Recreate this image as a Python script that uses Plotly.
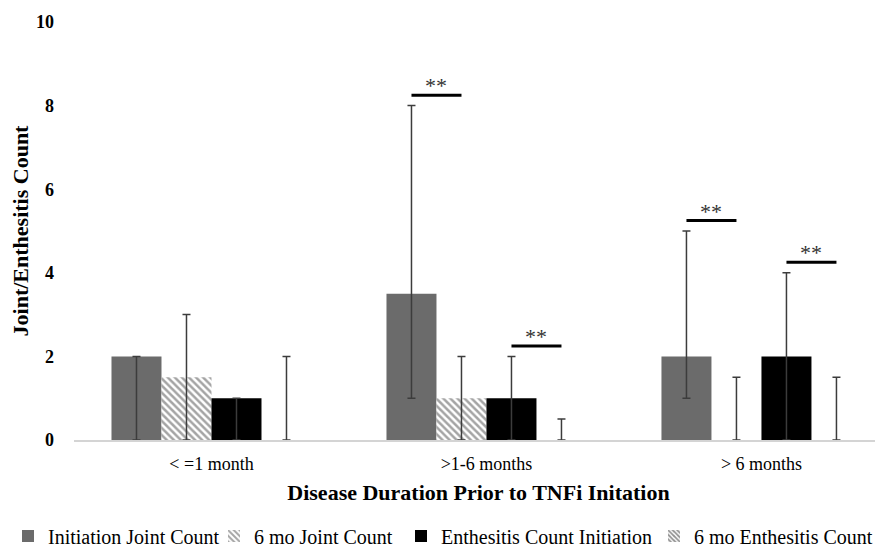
import plotly.graph_objects as go

categories = ["< =1 month", ">1-6 months", "> 6 months"]
series_names = ["Initiation Joint Count", "6 mo Joint Count",
                "Enthesitis Count Initiation", "6 mo Enthesitis Count"]
init_joint = [2, 3.5, 2]
init_joint_low = [0, 1, 1]
init_joint_high = [2, 8, 5]
six_mo_joint = [1.5, 1, 0]
six_mo_joint_low = [0, 0, 0]
six_mo_joint_high = [3, 2, 1.5]
enth_init = [1, 1, 2]
enth_init_low = [0, 0, 0]
enth_init_high = [1, 2, 4]
six_mo_enth = [0, 0, 0]
six_mo_enth_low = [0, 0, 0]
six_mo_enth_high = [2, 0.5, 1.5]
# significance: (group index, first bar index of compared pair)
sig_groups = [1, 1, 2, 2]
sig_bars = [0, 2, 0, 2]
sig_label = "**"

values = [init_joint, six_mo_joint, enth_init, six_mo_enth]
lows = [init_joint_low, six_mo_joint_low, enth_init_low, six_mo_enth_low]
highs = [init_joint_high, six_mo_joint_high, enth_init_high, six_mo_enth_high]

FONT = "Liberation Serif, Times New Roman, serif"
BARGAP = 0.2727
n_series = 4
bw = (1 - BARGAP) / n_series

# page has an 8px body margin; figure is sized to fill the rest of the window
W, H = 875, 540

styles = [
    dict(color="#6b6b6b"),
    dict(color="white", pattern=dict(shape="\\", fgcolor="#4a4a4a", bgcolor="white", size=5, solidity=0.5)),
    dict(color="black"),
    dict(color="white", pattern=dict(shape="\\", fgcolor="#1e1e1e", bgcolor="white", size=4, solidity=0.55)),
]
legend_ids = ["legend", "legend2", "legend3", "legend4"]
legend_left_px = [-1, 214, 401, 654]

xs = list(range(len(categories)))
fig = go.Figure()
for k in range(n_series):
    fig.add_trace(go.Bar(
        x=xs, y=values[k], name=series_names[k], legend=legend_ids[k],
        marker=dict(**styles[k], line=dict(width=0)),
        error_y=dict(type="data", symmetric=False,
                     array=[h - v for h, v in zip(highs[k], values[k])],
                     arrayminus=[v - l for v, l in zip(values[k], lows[k])],
                     color="#3c3c3c", thickness=1.5, width=4),
    ))

shapes = []
annotations = []
for g, b in zip(sig_groups, sig_bars):
    x0 = g + (b - 1.5) * bw
    x1 = g + (b + 1 - 1.5) * bw
    top = max(highs[b][g], highs[b + 1][g]) + 0.25
    shapes.append(dict(type="line", xref="x", yref="y", x0=x0, x1=x1, y0=top, y1=top,
                       line=dict(color="black", width=3)))
    annotations.append(dict(x=(x0 + x1) / 2, y=top, xref="x", yref="y", text=sig_label,
                            showarrow=False, yanchor="bottom", yshift=-5,
                            font=dict(family=FONT, size=22, color="#333333")))

legend_layout = {}
for lid, left in zip(legend_ids, legend_left_px):
    legend_layout[lid] = dict(
        orientation="h", xref="container", yref="container",
        x=(left - 8) / W, xanchor="left", y=12 / H, yanchor="middle",
        font=dict(family=FONT, size=20), itemwidth=30, bgcolor="rgba(0,0,0,0)")

fig.update_layout(
    width=W, height=H,
    margin=dict(l=66, r=0, t=14, b=108, autoexpand=False),
    paper_bgcolor="white", plot_bgcolor="white",
    barmode="group", bargap=BARGAP, bargroupgap=0,
    font=dict(family=FONT, color="black"),
    shapes=shapes, annotations=annotations,
    showlegend=True,
    xaxis=dict(range=[-0.5, 2.442], tickmode="array", tickvals=xs, ticktext=categories,
               showline=True, linecolor="#d4d4d4", linewidth=1.5, showgrid=False,
               zeroline=False, ticks="", tickfont=dict(family=FONT, size=18),
               ticklabelstandoff=7, automargin=False,
               title=dict(text="<b>Disease Duration Prior to TNFi Initation</b>",
                          font=dict(family=FONT, size=22), standoff=11)),
    yaxis=dict(range=[0, 10], dtick=2, showgrid=False, zeroline=False, showline=False,
               ticks="", ticklabelstandoff=19, automargin=False,
               tickfont=dict(family=FONT, size=18, weight="bold"),
               title=dict(text="<b>Joint/Enthesitis Count</b>",
                          font=dict(family=FONT, size=22), standoff=3)),
    **legend_layout,
)

fig.write_html("out.html")
